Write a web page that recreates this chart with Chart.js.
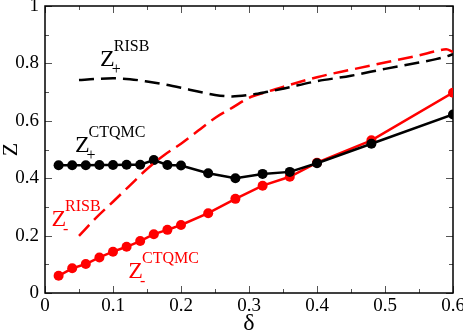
<!DOCTYPE html>
<html>
<head>
<meta charset="utf-8">
<script src="https://cdn.jsdelivr.net/npm/chart.js@4/dist/chart.umd.min.js"></script>
<style>
html,body{margin:0;padding:0;background:#fff;}
#wrap{width:463px;height:332px;position:relative;}
</style>
</head>
<body>
<div id="wrap"><canvas id="c" width="463" height="332"></canvas></div>
<script>
// ---- data ----
const deltaCTQMC = [0.02,0.04,0.06,0.08,0.10,0.12,0.14,0.16,0.18,0.20,0.24,0.28,0.32,0.36,0.40,0.48,0.60];
const zPlusCTQMC = [0.445,0.445,0.445,0.446,0.446,0.447,0.447,0.463,0.446,0.444,0.417,0.400,0.415,0.422,0.452,0.520,0.622];
const zMinusCTQMC = [0.060,0.086,0.101,0.124,0.144,0.161,0.181,0.205,0.220,0.237,0.278,0.328,0.374,0.405,0.454,0.532,0.698];

const deltaRISB = [0.05,0.075,0.10,0.125,0.15,0.175,0.20,0.225,0.25,0.275,0.30,0.325,0.35,0.40,0.45,0.50,0.55,0.575,0.59,0.60];
const zPlusRISB = [0.742,0.746,0.748,0.745,0.737,0.727,0.715,0.702,0.690,0.685,0.690,0.700,0.712,0.738,0.757,0.781,0.803,0.815,0.824,0.832];
const zMinusRISB = [0.199,0.262,0.318,0.375,0.432,0.480,0.520,0.565,0.610,0.645,0.680,0.700,0.718,0.752,0.778,0.803,0.828,0.843,0.849,0.840];

const xTickValues = [0,0.1,0.2,0.3,0.4,0.5,0.6];
const yTickValues = [0,0.2,0.4,0.6,0.8,1];

const SERIF = '"Liberation Serif", "DejaVu Serif", serif';
Chart.defaults.font.family = SERIF;

function pts(xs, ys){ return xs.map((x,i)=>({x:x,y:ys[i]})); }
function fmt(v){ return (Math.abs(v-Math.round(v))<1e-9) ? String(Math.round(v)) : v.toFixed(1); }

// labels: [base, sup, sub, color, x(data), y(data)]
const curveLabels = [
  ['Z','RISB','+','#000',0.0810,0.790],
  ['Z','CTQMC','+','#000',0.0440,0.492],
  ['Z','RISB','-','#ff0000',0.0095,0.234],
  ['Z','CTQMC','-','#ff0000',0.1225,0.054]
];

const decor = {
  id:'decor',
  beforeDatasetsDraw(chart){
    const ctx = chart.ctx, a = chart.chartArea;
    const xs = chart.scales.x, ys = chart.scales.y;
    ctx.save();
    ctx.strokeStyle = '#555';
    ctx.lineWidth = 1;
    ctx.beginPath();
    for (let i=0; i<=12; i++){
      const v = i*0.05;
      const L = (i%2===0) ? 7 : 4;
      const px = Math.round(xs.getPixelForValue(v))+0.5;
      ctx.moveTo(px, a.bottom); ctx.lineTo(px, a.bottom-L);
      ctx.moveTo(px, a.top); ctx.lineTo(px, a.top+L);
    }
    for (let i=0; i<=10; i++){
      const v = i*0.1;
      const L = (i%2===0) ? 7 : 4;
      const py = Math.round(ys.getPixelForValue(v))+0.5;
      ctx.moveTo(a.left, py); ctx.lineTo(a.left+L, py);
      ctx.moveTo(a.right, py); ctx.lineTo(a.right-L, py);
    }
    ctx.stroke();
    ctx.strokeStyle = '#000';
    ctx.lineWidth = 1.5;
    ctx.strokeRect(a.left, a.top, a.right-a.left, a.bottom-a.top);
    ctx.restore();
  },
  afterDraw(chart){
    const ctx = chart.ctx, a = chart.chartArea;
    const xs = chart.scales.x, ys = chart.scales.y;
    ctx.save();
    ctx.fillStyle = '#000';
    ctx.textAlign = 'center';
    ctx.textBaseline = 'alphabetic';
    ctx.font = '24px ' + SERIF;
    ctx.fillText('δ', (a.left+a.right)/2, 330);
    ctx.font = '22px ' + SERIF;
    ctx.save();
    ctx.translate(17, (a.top+a.bottom)/2);
    ctx.rotate(-Math.PI/2);
    ctx.fillText('Z', 0, 0);
    ctx.restore();
    ctx.textAlign = 'left';
    curveLabels.forEach(l=>{
      const x = xs.getPixelForValue(l[4]);
      const y = ys.getPixelForValue(l[5]);
      ctx.fillStyle = l[3];
      ctx.font = '24px ' + SERIF;
      ctx.fillText(l[0], x, y);
      const w = ctx.measureText(l[0]).width;
      ctx.font = '16px ' + SERIF;
      ctx.fillText(l[1], x + w - 1, y - 15);
      ctx.fillText(l[2], x + w - 3, y + 8);
    });
    ctx.restore();
  }
};

new Chart(document.getElementById('c'), {
  type:'line',
  data:{
    datasets:[
      {label:'Z+ RISB', data:pts(deltaRISB,zPlusRISB), borderColor:'#000', borderWidth:2.5, borderDash:[15,7], pointRadius:0, cubicInterpolationMode:'monotone', fill:false},
      {label:'Z- RISB', data:pts(deltaRISB,zMinusRISB), borderColor:'#ff0000', borderWidth:2.5, borderDash:[15,7], pointRadius:0, cubicInterpolationMode:'monotone', fill:false},
      {label:'Z+ CTQMC', data:pts(deltaCTQMC,zPlusCTQMC), borderColor:'#000', backgroundColor:'#000', borderWidth:2.5, pointRadius:5, pointBorderWidth:0, pointBackgroundColor:'#000', tension:0, fill:false},
      {label:'Z- CTQMC', data:pts(deltaCTQMC,zMinusCTQMC), borderColor:'#ff0000', backgroundColor:'#ff0000', borderWidth:2.5, pointRadius:5, pointBorderWidth:0, pointBackgroundColor:'#ff0000', tension:0, fill:false}
    ]
  },
  options:{
    responsive:false,
    animation:false,
    devicePixelRatio:1,
    layout:{padding:{top:6,right:10,left:0,bottom:0}},
    plugins:{legend:{display:false}, tooltip:{enabled:false}},
    scales:{
      x:{
        type:'linear', min:0, max:0.6,
        afterBuildTicks(s){ s.ticks = xTickValues.map(v=>({value:v})); },
        afterFit(s){ s.height = 39; s.paddingLeft = 0; s.paddingRight = 0; },
        grid:{display:false, drawTicks:false},
        border:{display:false},
        ticks:{color:'#000', padding:2, maxRotation:0, autoSkip:false, callback:(v)=>fmt(v), font:{family:SERIF, size:19}}
      },
      y:{
        type:'linear', min:0, max:1,
        afterBuildTicks(s){ s.ticks = yTickValues.map(v=>({value:v})); },
        afterFit(s){ s.width = 45; s.paddingTop = 0; s.paddingBottom = 0; },
        grid:{display:false, drawTicks:false},
        border:{display:false},
        ticks:{color:'#000', padding:6, autoSkip:false, callback:(v)=>fmt(v), font:{family:SERIF, size:19}}
      }
    }
  },
  plugins:[decor]
});
</script>
</body>
</html>
